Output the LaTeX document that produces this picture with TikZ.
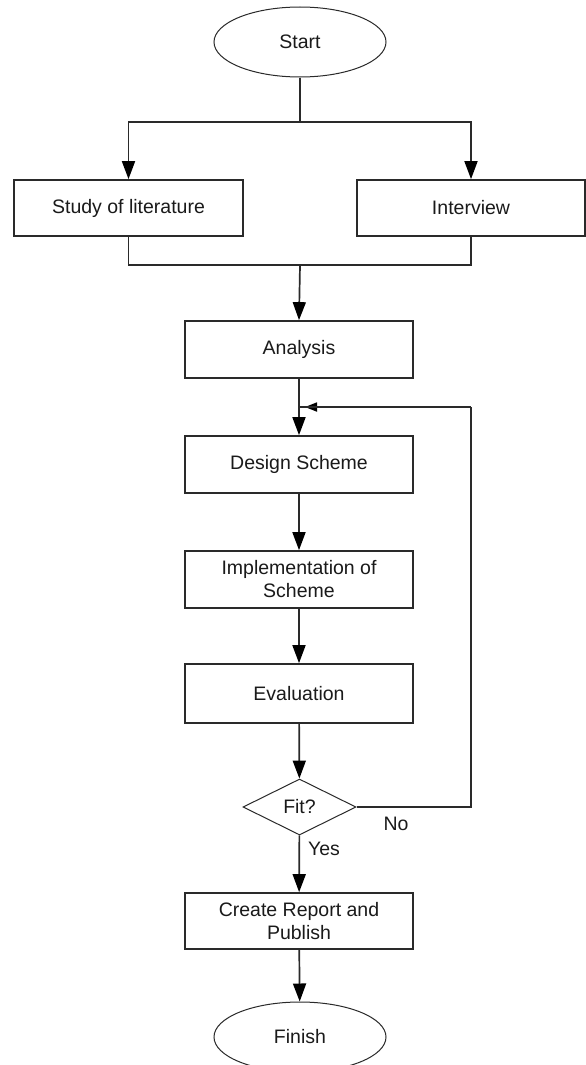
\documentclass[tikz,border=0pt]{standalone}
\usepackage{fontspec}
\setmainfont{Liberation Sans}
\usetikzlibrary{shapes.geometric,arrows.meta}
\definecolor{ln}{HTML}{2A2A2A}
\definecolor{tx}{HTML}{1A1A1A}
\begin{document}
\begin{tikzpicture}[x=1pt,y=-1pt,
  lbl/.style={font=\fontsize{19.5}{23}\selectfont, text=tx},
  procbox/.style={draw=ln, line width=1.7pt, minimum width=228pt, minimum height=57pt, inner sep=0pt, align=center, lbl},
  term/.style={ellipse, draw=ln, line width=1pt, minimum width=172pt, minimum height=70pt, inner sep=0pt, lbl},
  decision/.style={diamond, aspect=2, draw=ln, line width=1pt, minimum width=113pt, minimum height=56pt, inner sep=0pt, lbl},
  conn/.style={draw=ln, line width=1.7pt},
  arr/.style={conn, -{Triangle[width=13pt,length=18pt,fill=black,color=black]}},
  arrsmall/.style={conn, -{Triangle[width=9pt,length=12pt,fill=black,color=black]}}
]
\useasboundingbox (0,0) rectangle (586,1065);
\clip (0,0) rectangle (586,1065);
\fill[white] (0,0) rectangle (586,1065);

\node[term] (start) at (300,42) {Start};
\node[procbox, minimum width=229pt, minimum height=56pt] (study) at (128.5,208) {Study of literature};
\node[procbox, minimum height=56pt] (interview) at (471,208) {Interview};
\node[procbox] (analysis) at (299,349.5) {Analysis};
\node[procbox] (design) at (299,464.5) {Design Scheme};
\node[procbox] (impl) at (299,579.5) {Implementation of\\Scheme};
\node[procbox, minimum height=59pt] (eval) at (299,693.5) {Evaluation};
\node[decision] (fit) at (299.5,807) {Fit?};
\node[procbox, minimum height=56pt] (report) at (299,921) {Create Report and\\Publish};
\node[term] (finish) at (300,1037) {Finish};

\node[lbl] (no) at (396,824) {No};
\node[lbl] (yes) at (324,849) {Yes};

\coordinate (split) at (300,122);
\coordinate (merge) at (300,265);
\coordinate (loopR) at (471,407);
\coordinate (loopJ) at (300,407);

\draw[conn] (start.south) -- (split);
\draw[arr] (split) -| (study.north);
\draw[arr] (split) -| (interview.north);
\draw[conn] (study.south) |- (merge);
\draw[conn] (interview.south) |- (merge);
\draw[arr] (merge) -- (analysis.north);
\draw[arr] (analysis) -- (design);
\draw[arr] (design) -- (impl);
\draw[arr] (impl) -- (eval);
\draw[arr] (eval) -- (fit);
\draw[arr] (fit) -- (report);
\draw[arr] (report) -- (finish);
\draw[conn] (fit.east) -| (loopR);
\draw[arrsmall, shorten >=5pt] (loopR) -- (loopJ);
\draw[conn] (loopR) -- (loopJ);
\end{tikzpicture}
\end{document}
